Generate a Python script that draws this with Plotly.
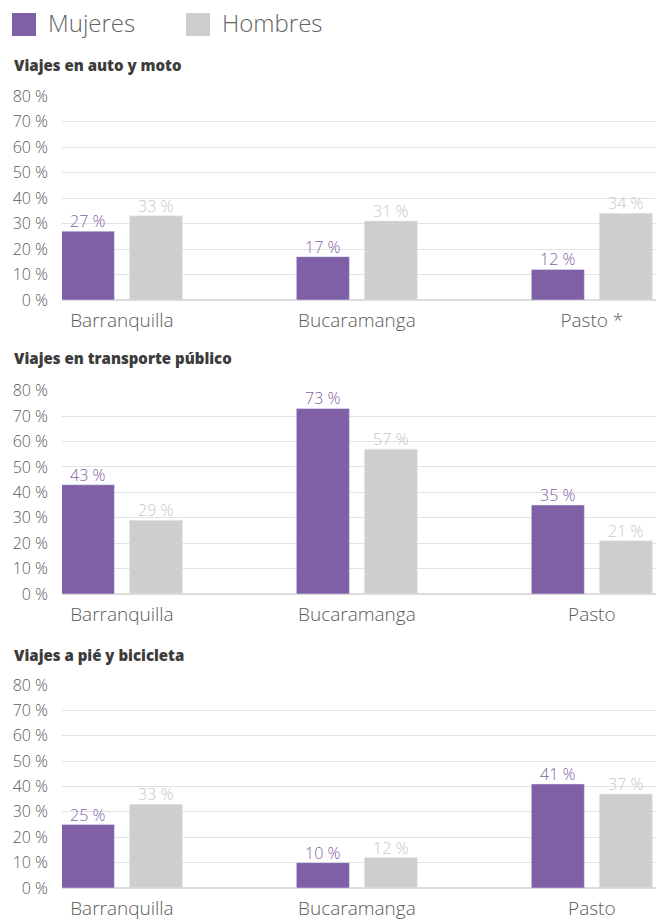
import plotly.graph_objects as go

ciudades = ["Barranquilla", "Bucaramanga", "Pasto"]
etiquetas_auto = ["Barranquilla", "Bucaramanga", "Pasto *"]
titulos = ["Viajes en auto y moto", "Viajes en transporte público", "Viajes a pié y bicicleta"]

auto_mujeres = [27, 17, 12]
auto_hombres = [33, 31, 34]
publico_mujeres = [43, 73, 35]
publico_hombres = [29, 57, 21]
pie_mujeres = [25, 10, 41]
pie_hombres = [33, 12, 37]

y_ticks = [0, 10, 20, 30, 40, 50, 60, 70, 80]
y_ticktext = [f"{v} %" for v in y_ticks]

PURPLE = "rgb(127,95,165)"
GRAY = "rgb(206,206,206)"
GRAY_TXT = "rgb(200,200,200)"
TXT = "rgb(90,90,90)"
FONT = "Open Sans"

W, H = 656, 921
panels = [
    (auto_mujeres, auto_hombres, etiquetas_auto, 96, 300, 65),
    (publico_mujeres, publico_hombres, ciudades, 390.7, 594, 358),
    (pie_mujeres, pie_hombres, ciudades, 685, 888, 655),
]

fig = go.Figure()
layout = dict(
    width=W, height=H, margin=dict(l=0, r=0, t=0, b=0, autoexpand=False),
    paper_bgcolor="white", plot_bgcolor="white",
    showlegend=False, barmode="group", bargap=0.421, bargroupgap=0.22,
    font=dict(family=FONT, color=TXT),
)
annotations = []
shapes = []
for i, (m, h, labels, top, bot, ty) in enumerate(panels):
    n = "" if i == 0 else str(i + 1)
    xa = "x" + n
    ya = "y" + n
    fig.add_trace(go.Bar(
        x=ciudades, y=m, name="Mujeres", marker_color=PURPLE,
        xaxis=xa, yaxis=ya, offsetgroup="m", hoverinfo="skip",
    ))
    fig.add_trace(go.Bar(
        x=ciudades, y=h, name="Hombres", marker_color=GRAY,
        xaxis=xa, yaxis=ya, offsetgroup="h", hoverinfo="skip",
    ))
    for vals, col, dx in [(m, PURPLE, -34), (h, GRAY_TXT, 34)]:
        for c, v in zip(ciudades, vals):
            annotations.append(dict(
                text=f"{v} %", xref=xa, yref=ya, x=c, y=v, xshift=dx, yshift=-3,
                xanchor="center", yanchor="bottom", showarrow=False,
                font=dict(size=16, color=col, family=FONT, weight=300),
            ))
    layout["xaxis" + n] = dict(
        domain=[62 / W, 1.0], anchor=ya, type="category", automargin=False,
        range=[-0.255, 2.273], tickmode="array", tickvals=ciudades, ticktext=labels,
        showgrid=False, zeroline=False, showline=False, ticks="",
        ticklabelstandoff=7, fixedrange=True,
        tickfont=dict(size=19, color=TXT, family=FONT, weight=300),
    )
    layout["yaxis" + n] = dict(
        domain=[1 - bot / H, 1 - top / H], anchor=xa, range=[0, 80], automargin=False,
        tickmode="array", tickvals=y_ticks, ticktext=y_ticktext,
        showgrid=True, gridcolor="rgb(226,226,226)", gridwidth=1,
        zeroline=True, zerolinecolor="rgb(220,220,220)", zerolinewidth=1.5,
        showline=False, ticks="", ticklabelstandoff=13, fixedrange=True,
        tickfont=dict(size=16, color=TXT, family=FONT, weight=300),
    )
    annotations.append(dict(
        text=titulos[i], xref="paper", yref="paper", x=12 / W, y=1 - ty / H,
        xanchor="left", yanchor="middle", showarrow=False,
        font=dict(size=15, color="rgb(60,60,60)", family=FONT, weight=800),
    ))

# legend
for x0, col, name in [(12, PURPLE, "Mujeres"), (186, GRAY, "Hombres")]:
    shapes.append(dict(type="rect", xref="paper", yref="paper",
                       x0=x0 / W, x1=(x0 + 24) / W, y0=1 - 36 / H, y1=1 - 13 / H,
                       fillcolor=col, line=dict(width=0)))
    annotations.append(dict(
        text=name, xref="paper", yref="paper", x=(x0 + 34) / W, y=1 - 22 / H,
        xanchor="left", yanchor="middle", showarrow=False,
        font=dict(size=24, color="rgb(100,100,100)", family=FONT, weight=300),
    ))

layout["annotations"] = annotations
layout["shapes"] = shapes
fig.update_layout(**layout)
fig.write_html("out.html", config={"displayModeBar": False},
               post_script="document.body.style.margin='0';document.body.style.overflow='hidden';")
